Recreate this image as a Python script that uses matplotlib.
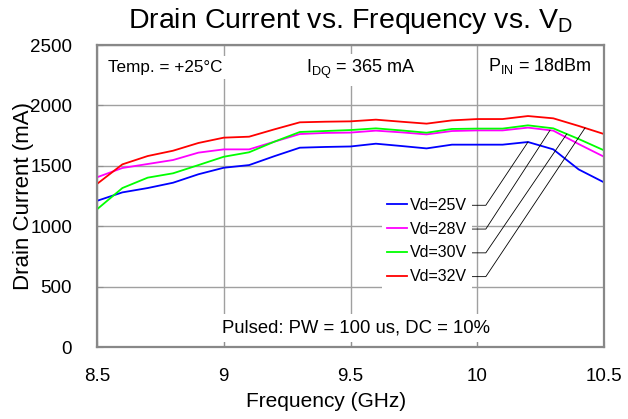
import numpy as np
import matplotlib
matplotlib.use('Agg')
import matplotlib.pyplot as plt

plt.rcParams['font.family'] = ['Liberation Sans', 'DejaVu Sans']
plt.rcParams['mathtext.fontset'] = 'custom'
plt.rcParams['mathtext.rm'] = 'Liberation Sans'
plt.rcParams['mathtext.it'] = 'Liberation Sans:italic'

# frequency points (GHz)
freq = [8.5, 8.6, 8.7, 8.8, 8.9, 9.0, 9.1, 9.2, 9.3, 9.4, 9.5,
        9.6, 9.7, 9.8, 9.9, 10.0, 10.1, 10.2, 10.3, 10.4, 10.5]

# drain current (mA) per drain voltage
id_25v = [1210, 1280, 1316, 1360, 1430, 1484, 1506, 1580, 1650, 1656, 1660,
          1683, 1664, 1644, 1675, 1675, 1675, 1697, 1636, 1470, 1363]
id_28v = [1405, 1482, 1515, 1548, 1609, 1636, 1636, 1700, 1763, 1772, 1775,
          1791, 1777, 1760, 1788, 1793, 1793, 1816, 1791, 1680, 1575]
id_30v = [1140, 1316, 1402, 1438, 1506, 1575, 1612, 1700, 1780, 1788, 1796,
          1810, 1793, 1774, 1805, 1808, 1808, 1835, 1810, 1722, 1628]
id_32v = [1350, 1512, 1581, 1625, 1689, 1733, 1741, 1802, 1860, 1865, 1868,
          1882, 1865, 1849, 1876, 1887, 1887, 1912, 1893, 1830, 1763]

labels = ['Vd=25V', 'Vd=28V', 'Vd=30V', 'Vd=32V']
colors = ['#0000FF', '#FF00FF', '#00FF00', '#FF0000']
# where each leader line touches its curve (GHz)
leader_freq = [10.2, 10.287, 10.353, 10.425]

series = [id_25v, id_28v, id_30v, id_32v]

fig = plt.figure(figsize=(6.28, 4.19), dpi=100)
ax = fig.add_axes([0.1545, 0.1718, 0.8073, 0.7208])

for s, c, lab in zip(series, colors, labels):
    ax.plot(freq, s, color=c, lw=1.3, label=lab)

ax.set_xlim(8.5, 10.5)
ax.set_ylim(0, 2500)
ax.set_xticks([8.5, 9, 9.5, 10, 10.5])
ax.set_xticklabels(['8.5', '9', '9.5', '10', '10.5'])
ax.set_yticks([0, 500, 1000, 1500, 2000, 2500])
ax.grid(True, color='#a0a0a0', lw=1)
ax.set_axisbelow(True)
ax.tick_params(direction='in', length=4, color='#909090', labelsize=13.5)
ax.tick_params(axis='x', pad=15)
ax.tick_params(axis='y', pad=18)
for sp in ax.spines.values():
    sp.set_color('#888888')
    sp.set_linewidth(1.6)

ax.set_title(r'Drain Current vs. Frequency vs. V$_{\mathrm{D}}$', fontsize=20.5, pad=12)
ax.set_xlabel('Frequency (GHz)', fontsize=15)
ax.xaxis.set_label_coords(0.452, -0.15)
ax.set_ylabel('Drain Current (mA)', fontsize=16)
ax.yaxis.set_label_coords(-0.125, 0.5)

box = dict(facecolor='white', edgecolor='none', pad=3)
ax.text(0.022, 0.925, 'Temp. = +25°C', transform=ax.transAxes, fontsize=12.3,
        va='center', ha='left', bbox=box)
ax.text(0.412, 0.918, r'I$_{\mathrm{DQ}}$ = 365 mA', transform=ax.transAxes, fontsize=13,
        va='center', ha='left', bbox=box)
ax.text(0.772, 0.93, r'P$_{\mathrm{IN}}$ = 18dBm', transform=ax.transAxes, fontsize=13,
        va='center', ha='left', bbox=box)
ax.text(0.511, 0.063, 'Pulsed: PW = 100 us, DC = 10%', transform=ax.transAxes,
        fontsize=13.3, va='center', ha='center',
        bbox=dict(facecolor='white', edgecolor='none', pad=4))

leg = ax.legend(loc='upper left', bbox_to_anchor=(0.562, 0.51), fontsize=11.5,
                frameon=True, fancybox=False, framealpha=1, edgecolor='none',
                handlelength=1.25, handletextpad=0.2, labelspacing=0.55,
                borderpad=0.3, borderaxespad=0)

# leader lines from legend entries to curves
fig.canvas.draw()
inv = ax.transData.inverted()
leg_box = leg.get_frame().get_window_extent()
for txt, s, fx in zip(leg.get_texts(), series, leader_freq):
    bb = txt.get_window_extent()
    yc = (bb.y0 + bb.y1) / 2
    x0, y0 = inv.transform((leg_box.x1, yc))
    x1, _ = inv.transform((leg_box.x1 + 14, yc))
    y_end = np.interp(fx, freq, s)
    ax.plot([x0, x1, fx], [y0, y0, y_end], color='black', lw=0.6, zorder=3)

fig.savefig('out.png', dpi=100)
